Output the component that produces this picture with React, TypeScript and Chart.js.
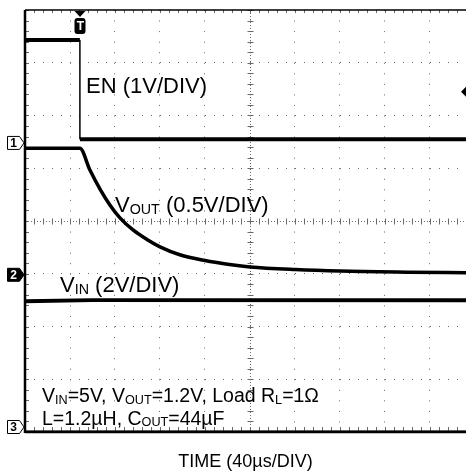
import React, { useEffect, useRef } from 'react';
import { Chart, registerables } from 'chart.js';

Chart.register(...registerables);

// Scope screen: 10 horizontal divisions (only 9.8 visible), 8 vertical divisions
const X_MIN = 0;
const X_MAX = 9.8;
const Y_MIN = 0;
const Y_MAX = 8;

// EN trace (divisions)
const enX = [0, 1.22, 1.22, 9.8];
const enY = [7.43, 7.43, 5.55, 5.55];

// VOUT trace (divisions)
const voutX = [0, 1.22, 1.44, 1.67, 1.89, 2.11, 2.4, 2.71, 3.0, 3.44, 4.0, 4.5, 5.0, 6.0, 7.0, 8.5, 9.8];
const voutY = [5.38, 5.38, 4.97, 4.6, 4.3, 4.06, 3.83, 3.65, 3.51, 3.36, 3.25, 3.18, 3.13, 3.08, 3.05, 3.03, 3.02];

// VIN trace (divisions)
const vinX = [0, 1.5, 9.8];
const vinY = [2.48, 2.5, 2.5];

// Channel 3 trace (at bottom edge)
const ch3X = [0, 9.8];
const ch3Y = [0, 0];

// Channel ground markers (divisions)
const ch1Ground = 5.48;
const ch2Ground = 2.98;
const ch3Ground = 0;
const triggerX = 1.22;
const triggerLevel = 6.45;

// Text
const xTitle = 'TIME (40µs/DIV)';
type Seg = { t: string; sub?: boolean };
const enLabel: Seg[] = [{ t: 'EN (1V/DIV)' }];
const voutLabel: Seg[] = [{ t: 'V' }, { t: 'OUT', sub: true }, { t: ' (0.5V/DIV)' }];
const vinLabel: Seg[] = [{ t: 'V' }, { t: 'IN', sub: true }, { t: ' (2V/DIV)' }];
const note1: Seg[] = [
  { t: 'V' }, { t: 'IN', sub: true }, { t: '=5V, V' }, { t: 'OUT', sub: true },
  { t: '=1.2V, Load R' }, { t: 'L', sub: true }, { t: '=1Ω' },
];
const note2: Seg[] = [{ t: 'L=1.2µH, C' }, { t: 'OUT', sub: true }, { t: '=44µF' }];

const FONT = '"Liberation Sans", Arial, Helvetica, sans-serif';

function toPts(xs: number[], ys: number[]) {
  return xs.map((x, i) => ({ x, y: ys[i] }));
}

function drawRich(ctx: CanvasRenderingContext2D, x: number, y: number, segs: Seg[], size: number) {
  let cx = x;
  ctx.textBaseline = 'alphabetic';
  ctx.textAlign = 'left';
  for (const s of segs) {
    const fs = s.sub ? size * 0.65 : size;
    ctx.font = `${fs}px ${FONT}`;
    ctx.fillText(s.t, cx, s.sub ? y + size * 0.1 : y);
    cx += ctx.measureText(s.t).width;
  }
}

function marker(ctx: CanvasRenderingContext2D, cy: number, label: string, filled: boolean) {
  ctx.save();
  ctx.beginPath();
  ctx.moveTo(7.5, cy - 6.5);
  ctx.lineTo(19.5, cy - 6.5);
  ctx.lineTo(24, cy);
  ctx.lineTo(19.5, cy + 6.5);
  ctx.lineTo(7.5, cy + 6.5);
  ctx.closePath();
  ctx.fillStyle = filled ? '#000' : '#fff';
  ctx.fill();
  ctx.lineWidth = 1;
  ctx.strokeStyle = '#000';
  ctx.stroke();
  ctx.fillStyle = filled ? '#fff' : '#000';
  ctx.font = `bold 12px ${FONT}`;
  ctx.textAlign = 'center';
  ctx.textBaseline = 'middle';
  ctx.fillText(label, 13.5, cy + 0.5);
  ctx.restore();
}

const scopePlugin = {
  id: 'scopeDecor',
  beforeDatasetsDraw(chart: any) {
    const { ctx, chartArea, scales } = chart;
    const xs = scales.x;
    const ys = scales.y;
    const { left, right, top, bottom } = chartArea;
    ctx.save();
    ctx.strokeStyle = '#6a6a6a';
    ctx.lineWidth = 1;
    const cx = Math.round(xs.getPixelForValue(5)) + 0.5;
    const cy = Math.round(ys.getPixelForValue(4)) + 0.5;
    // center cross: dense dots + minor ticks
    ctx.setLineDash([1, 2]);
    ctx.beginPath();
    ctx.moveTo(left, cy); ctx.lineTo(right, cy);
    ctx.moveTo(cx, top); ctx.lineTo(cx, bottom);
    ctx.stroke();
    ctx.setLineDash([]);
    ctx.beginPath();
    for (let v = X_MIN; v <= X_MAX + 1e-6; v += 0.2) {
      const px = Math.round(xs.getPixelForValue(v)) + 0.5;
      ctx.moveTo(px, cy - 3); ctx.lineTo(px, cy + 3);
      ctx.moveTo(px, top); ctx.lineTo(px, top + 3);
      ctx.moveTo(px, bottom); ctx.lineTo(px, bottom - 5);
    }
    for (let v = Y_MIN; v <= Y_MAX + 1e-6; v += 0.2) {
      const py = Math.round(ys.getPixelForValue(v)) + 0.5;
      ctx.moveTo(cx - 3, py); ctx.lineTo(cx + 3, py);
      ctx.moveTo(left, py); ctx.lineTo(left + 4, py);
    }
    ctx.stroke();
    // frame: top thin, left & bottom thick
    ctx.strokeStyle = '#000';
    ctx.lineWidth = 1.5;
    ctx.beginPath();
    ctx.moveTo(left, top); ctx.lineTo(right, top);
    ctx.stroke();
    ctx.lineWidth = 2.5;
    ctx.beginPath();
    ctx.moveTo(left, top); ctx.lineTo(left, bottom + 1);
    ctx.moveTo(left, bottom); ctx.lineTo(right, bottom);
    ctx.stroke();
    ctx.restore();
  },
  afterDatasetsDraw(chart: any) {
    const { ctx, scales, chartArea } = chart;
    const xs = scales.x;
    const ys = scales.y;
    ctx.save();
    ctx.fillStyle = '#000';
    drawRich(ctx, 86, 93, enLabel, 22);
    drawRich(ctx, 115, 212, voutLabel, 22);
    drawRich(ctx, 60, 292, vinLabel, 22);
    drawRich(ctx, 42, 402, note1, 19.5);
    drawRich(ctx, 42, 424.5, note2, 19.5);

    marker(ctx, ys.getPixelForValue(ch1Ground), '1', false);
    marker(ctx, ys.getPixelForValue(ch2Ground), '2', true);
    marker(ctx, Math.min(ys.getPixelForValue(ch3Ground), chartArea.bottom - 5), '3', false);

    // trigger position marker
    const tx = Math.round(xs.getPixelForValue(triggerX));
    const top = chartArea.top;
    ctx.beginPath();
    ctx.moveTo(tx - 5.5, top + 1);
    ctx.lineTo(tx + 5.5, top + 1);
    ctx.lineTo(tx, top + 7);
    ctx.closePath();
    ctx.fill();
    ctx.beginPath();
    (ctx as any).roundRect ? (ctx as any).roundRect(tx - 5.5, top + 8, 11, 16, 3) : ctx.rect(tx - 5.5, top + 8, 11, 16);
    ctx.fill();
    ctx.fillStyle = '#fff';
    ctx.font = `bold 12px ${FONT}`;
    ctx.textAlign = 'center';
    ctx.textBaseline = 'middle';
    ctx.fillText('T', tx + 0.5, top + 16.5);

    // trigger level marker (right edge)
    const ty = ys.getPixelForValue(triggerLevel);
    ctx.fillStyle = '#000';
    ctx.beginPath();
    ctx.moveTo(chartArea.right - 5, ty);
    ctx.lineTo(chartArea.right, ty - 5);
    ctx.lineTo(chartArea.right, ty + 5);
    ctx.closePath();
    ctx.fill();
    ctx.restore();
  },
};

export default function App() {
  const ref = useRef<HTMLCanvasElement | null>(null);
  useEffect(() => {
    if (!ref.current) return;
    const trace = (data: any[], extra: any = {}) => ({
      data,
      borderColor: '#000',
      backgroundColor: '#000',
      borderWidth: 4,
      pointRadius: 0,
      tension: 0,
      segment: {
        borderWidth: (c: any) => (Math.abs(c.p0.x - c.p1.x) < 0.5 ? 1.5 : undefined),
      },
      ...extra,
    });
    const chart = new Chart(ref.current, {
      type: 'line',
      data: {
        datasets: [
          trace(toPts(enX, enY)),
          trace(toPts(voutX, voutY), { cubicInterpolationMode: 'monotone', borderWidth: 3.5, segment: {} }),
          trace(toPts(vinX, vinY)),
          trace(toPts(ch3X, ch3Y), { borderWidth: 3, segment: {} }),
        ],
      },
      options: {
        animation: false,
        responsive: false,
        devicePixelRatio: 1,
        layout: { padding: { left: 25, top: 10, right: 0, bottom: 0 } },
        plugins: { legend: { display: false }, tooltip: { enabled: false } },
        scales: {
          x: {
            type: 'linear',
            min: X_MIN,
            max: X_MAX,
            ticks: { display: false, stepSize: 1 },
            grid: { color: '#6a6a6a', lineWidth: 1, drawTicks: false },
            border: { display: false, dash: [1, 9.55] },
            title: {
              display: true,
              text: xTitle,
              color: '#000',
              font: { family: FONT, size: 18 },
              padding: { top: 19, bottom: 3.4 },
            },
          },
          y: {
            type: 'linear',
            min: Y_MIN,
            max: Y_MAX,
            ticks: { display: false, stepSize: 1 },
            grid: { color: '#6a6a6a', lineWidth: 1, drawTicks: false },
            border: { display: false, dash: [1, 8] },
          },
        },
      },
      plugins: [scopePlugin],
    });
    return () => chart.destroy();
  }, []);
  return (
    <div style={{ position: 'fixed', left: 0, top: 0, width: 466, height: 476, background: '#fff' }}>
      <canvas ref={ref} width={466} height={476} style={{ display: 'block' }} />
    </div>
  );
}
